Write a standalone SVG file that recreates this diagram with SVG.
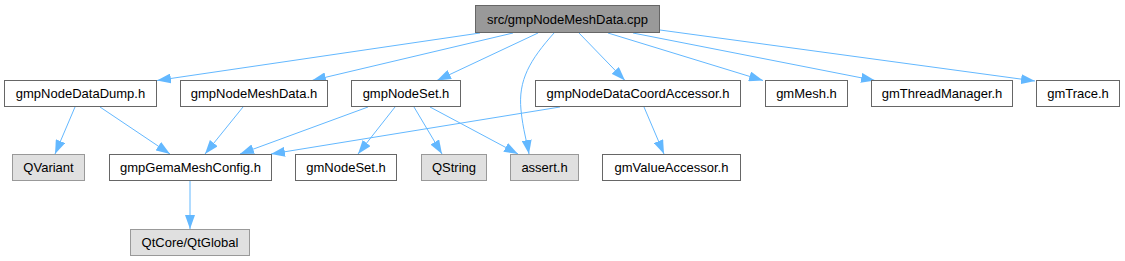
<svg xmlns="http://www.w3.org/2000/svg" width="1125" height="261" viewBox="0 0 1125 261">
<style>
.n rect{fill:#ffffff;stroke:#666666;stroke-width:1}
.g rect{fill:#e0e0e0;stroke:#999999;stroke-width:1}
.r rect{fill:#999999;stroke:#666666;stroke-width:1}
text{font-family:"Liberation Sans",Arial,sans-serif;font-size:13px;fill:#000000;text-anchor:middle}
#edges path{fill:none;stroke:#63b8ff;stroke-width:1;marker-end:url(#arr)}
</style>
<defs>
<marker id="arr" viewBox="0 0 14 10" refX="14" refY="5" markerWidth="14" markerHeight="10" markerUnits="userSpaceOnUse" orient="auto">
<path d="M0,0 L14,5 L0,10 z" fill="#63b8ff" stroke="none"/>
</marker>
</defs>
<rect width="1125" height="261" fill="#ffffff"/>
<g id="edges">
<path d="M480,33 L157,80.5"/>
<path d="M513,33 L312,80.5"/>
<path d="M538,33 L437,80.5"/>
<path d="M554,33 C530,60 518,80 521,110 C523,130 527,142 529,154"/>
<path d="M579,33 L625,80.5"/>
<path d="M608,33 L763,80.5"/>
<path d="M633,33 L875,80.5"/>
<path d="M660,30 L1035,81"/>
<path d="M75,107 L55,154"/>
<path d="M100,107 L170,154"/>
<path d="M243,107 L205,154"/>
<path d="M368,107 L240,154"/>
<path d="M560,107 L271,154"/>
<path d="M395,107 L358,154"/>
<path d="M414,107 L442,154"/>
<path d="M430,107 L518,154"/>
<path d="M644,107 L664,154"/>
<path d="M190,181 L190,229"/>
</g>
<g id="root" class="r"><rect x="475.5" y="5.5" width="184" height="27"/><text x="567.5" y="23.5">src/gmpNodeMeshData.cpp</text></g>
<g id="gmpNodeDataDump" class="n"><rect x="4.5" y="80.5" width="152" height="26"/><text x="80.5" y="98">gmpNodeDataDump.h</text></g>
<g id="gmpNodeMeshData" class="n"><rect x="180.5" y="80.5" width="147" height="26"/><text x="254" y="98">gmpNodeMeshData.h</text></g>
<g id="gmpNodeSet" class="n"><rect x="351.5" y="80.5" width="109" height="26"/><text x="406" y="98">gmpNodeSet.h</text></g>
<g id="gmpNodeDataCoordAccessor" class="n"><rect x="535.5" y="80.5" width="205" height="26"/><text x="638" y="98">gmpNodeDataCoordAccessor.h</text></g>
<g id="gmMesh" class="n"><rect x="765.5" y="80.5" width="82" height="26"/><text x="806.5" y="98">gmMesh.h</text></g>
<g id="gmThreadManager" class="n"><rect x="871.5" y="80.5" width="141" height="26"/><text x="942" y="98">gmThreadManager.h</text></g>
<g id="gmTrace" class="n"><rect x="1036.5" y="80.5" width="83" height="26"/><text x="1078" y="98">gmTrace.h</text></g>
<g id="QVariant" class="g"><rect x="12.5" y="154.5" width="72" height="26"/><text x="48.5" y="172">QVariant</text></g>
<g id="gmpGemaMeshConfig" class="n"><rect x="109.5" y="154.5" width="162" height="26"/><text x="190.5" y="172">gmpGemaMeshConfig.h</text></g>
<g id="gmNodeSet" class="n"><rect x="295.5" y="154.5" width="101" height="26"/><text x="346" y="172">gmNodeSet.h</text></g>
<g id="QString" class="g"><rect x="421.5" y="154.5" width="65" height="26"/><text x="454" y="172">QString</text></g>
<g id="assert" class="g"><rect x="510.5" y="154.5" width="68" height="26"/><text x="544.5" y="172">assert.h</text></g>
<g id="gmValueAccessor" class="n"><rect x="602.5" y="154.5" width="138" height="26"/><text x="671.5" y="172">gmValueAccessor.h</text></g>
<g id="QtGlobal" class="g"><rect x="130.5" y="229.5" width="119" height="26"/><text x="190" y="247">QtCore/QtGlobal</text></g>
</svg>
